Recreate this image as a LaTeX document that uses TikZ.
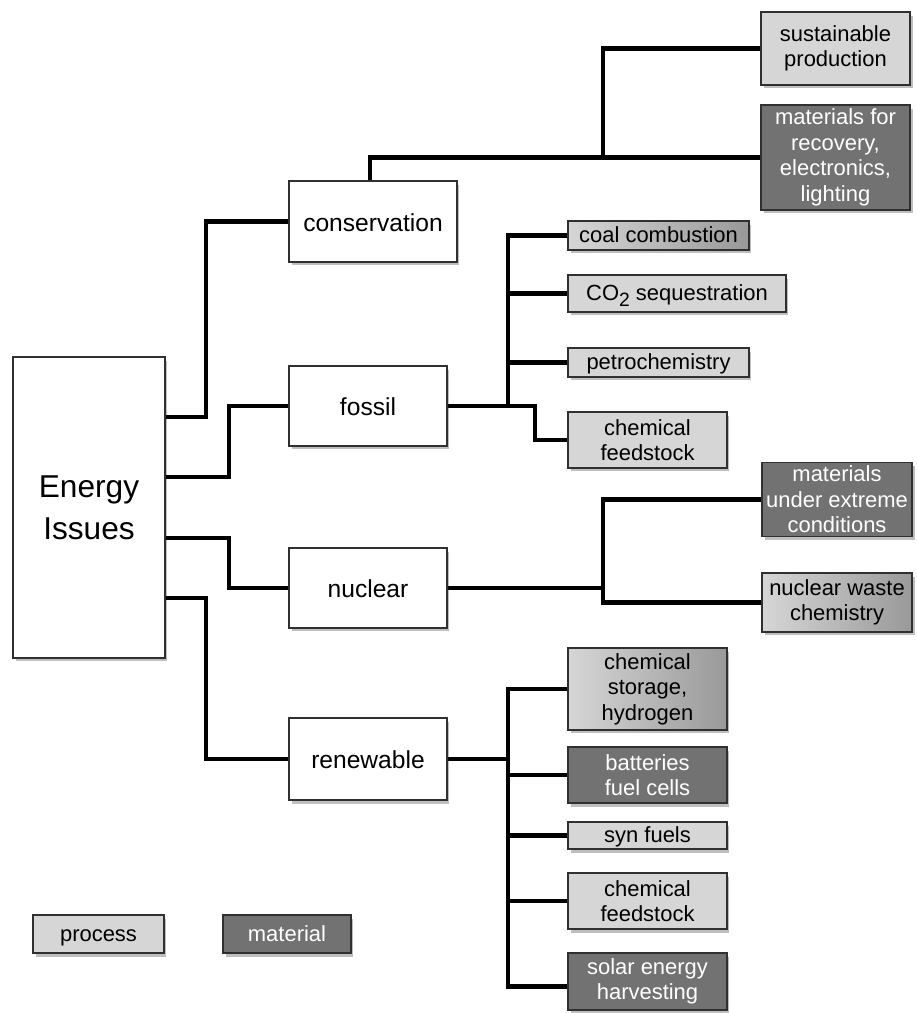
\documentclass[tikz,border=0pt]{standalone}
\usepackage{fontspec}
\setmainfont{Liberation Sans}
\usetikzlibrary{shadows, positioning}

\definecolor{procgray}{HTML}{D6D6D6}
\definecolor{matgray}{HTML}{727272}
\definecolor{edgegray}{HTML}{303030}

\tikzstyle{box} = [
rectangle,
draw=edgegray,
line width=0.9pt,
align=center,
text centered,
inner sep=2pt,
drop shadow={shadow xshift=0.5mm, shadow yshift=-0.7mm, opacity=0.5}]
\tikzstyle{topic} = [
box,
fill=white,
text=black,
font=\fontsize{14}{16}\selectfont]
\tikzstyle{process} = [
box,
fill=procgray,
text=black,
font=\fontsize{12.5}{14.5}\selectfont]
\tikzstyle{material} = [
box,
fill=matgray,
text=white,
font=\fontsize{12.5}{14.5}\selectfont]
\tikzstyle{mixed} = [
box,
left color=procgray,
right color=gray!80,
text=black,
font=\fontsize{12.5}{14.5}\selectfont]
\tikzstyle{oneline} = [
text height=8pt,
text depth=0pt]
\tikzstyle{onelineBig} = [
text height=11pt,
text depth=0pt]
\tikzstyle{link} = [
draw=black,
line width=2.3pt]

\begin{document}
\begin{tikzpicture}[x=0.02cm, y=-0.02cm]
\useasboundingbox (0,0) rectangle (916,1013);

% main topics
\node[topic, minimum width=3.04cm, minimum height=6.02cm, font=\fontsize{18}{24}\selectfont] (energy) at (89,507.5) {Energy\\Issues};
\node[topic, onelineBig, minimum width=3.36cm, minimum height=1.62cm] (conservation) at (373,221.5) {conservation};
\node[topic, onelineBig, minimum width=3.16cm, minimum height=1.6cm] (fossil) at (368,406) {fossil};
\node[topic, onelineBig, minimum width=3.16cm, minimum height=1.6cm] (nuclear) at (368,588) {nuclear};
\node[topic, onelineBig, minimum width=3.16cm, minimum height=1.64cm] (renewable) at (368,759) {renewable};

% conservation branch
\node[process, minimum width=2.98cm, minimum height=1.46cm] (sustainable) at (835.5,48.5) {sustainable\\production};
\node[material, minimum width=2.98cm, minimum height=2.1cm] (recovery) at (835.5,157.5) {materials for\\recovery,\\electronics,\\lighting};

% fossil branch
\node[mixed, oneline, minimum width=3.62cm, minimum height=0.58cm] (coal) at (658.5,235.5) {coal combustion};
\node[process, oneline, minimum width=4.36cm, minimum height=0.74cm] (sequestration) at (677,293.5) {CO\raisebox{-0.5ex}{\fontsize{11}{11}\selectfont 2} sequestration};
\node[process, oneline, minimum width=3.62cm, minimum height=0.58cm] (petrochem) at (658.5,362.5) {petrochemistry};
\node[process, minimum width=3.18cm, minimum height=1.12cm] (feedstockF) at (647.5,440) {chemical\\feedstock};

% nuclear branch
\node[material, minimum width=3cm, minimum height=1.46cm] (extreme) at (837,499.5) {materials\\under extreme\\conditions};
\node[mixed, minimum width=3cm, minimum height=1.18cm] (waste) at (837,602.5) {nuclear waste\\chemistry};

% renewable branch
\node[mixed, minimum width=3.18cm, minimum height=1.64cm] (storage) at (647.5,689) {chemical\\storage,\\hydrogen};
\node[material, minimum width=3.18cm, minimum height=1.12cm] (batteries) at (647.5,775) {batteries\\fuel cells};
\node[process, oneline, minimum width=3.18cm, minimum height=0.54cm] (synfuels) at (647.5,835.5) {syn fuels};
\node[process, minimum width=3.18cm, minimum height=1.12cm] (feedstockR) at (647.5,901) {chemical\\feedstock};
\node[material, minimum width=3.18cm, minimum height=1.14cm] (solar) at (647.5,981.5) {solar energy\\harvesting};

% legend
\node[process, oneline, minimum width=2.62cm, minimum height=0.76cm] (legendProcess) at (98.5,934) {process};
\node[material, oneline, minimum width=2.56cm, minimum height=0.76cm] (legendMaterial) at (287,934) {material};

% junctions
\coordinate (consJoin) at (603,157.5);
\coordinate (fossilFork) at (508,406);
\coordinate (nuclearFork) at (603,588);
\coordinate (renewFork) at (508,759);

\draw[link] ([yshift=1.81cm]energy.east) -- ++(40,0) |- (conservation.west);
\draw[link] ([yshift=0.61cm]energy.east) -- ++(63,0) |- (fossil.west);
\draw[link] ([yshift=-0.61cm]energy.east) -- ++(63,0) |- (nuclear.west);
\draw[link] ([yshift=-1.81cm]energy.east) -- ++(40,0) |- (renewable.west);

\draw[link] ([xshift=-0.06cm]conservation.north) |- (recovery.west);
\draw[link] (consJoin) |- (sustainable.west);

\draw[link] (fossil.east) -- (fossilFork);
\draw[link] (fossilFork) |- (coal.west);
\draw[link] (fossilFork) |- (sequestration.west);
\draw[link] (fossilFork) |- (petrochem.west);
\draw[link] (fossilFork) -- ++(27,0) |- (feedstockF.west);

\draw[link] (nuclear.east) -- (nuclearFork);
\draw[link] (nuclearFork) |- (extreme.west);
\draw[link] (nuclearFork) |- (waste.west);

\draw[link] (renewable.east) -- (renewFork);
\draw[link] (renewFork) |- (storage.west);
\draw[link] (renewFork) |- (batteries.west);
\draw[link] (renewFork) |- (synfuels.west);
\draw[link] (renewFork) |- (feedstockR.west);
\draw[link] (renewFork) |- ([yshift=-0.1cm]solar.west);

\end{tikzpicture}
\end{document}
